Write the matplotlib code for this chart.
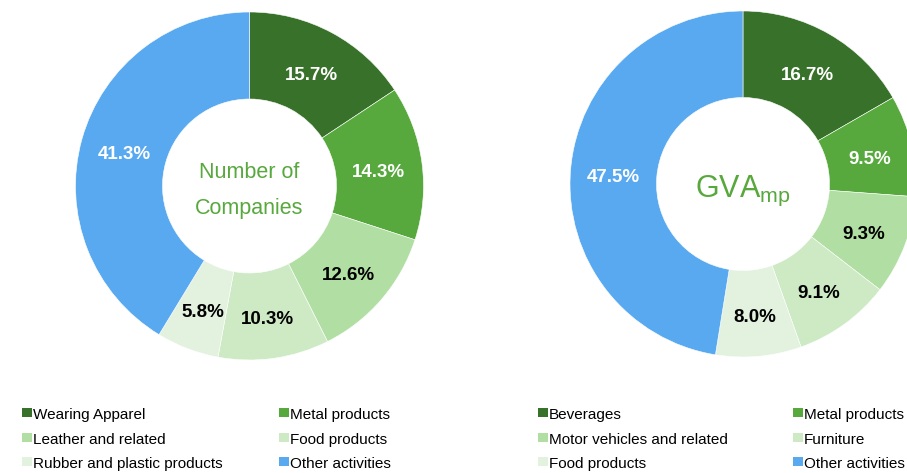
import matplotlib
matplotlib.use("Agg")
import matplotlib.pyplot as plt
from matplotlib.patches import Rectangle

plt.rcParams['font.family'] = ['Liberation Sans', 'DejaVu Sans']
plt.rcParams['mathtext.fontset'] = 'custom'
plt.rcParams['mathtext.rm'] = 'Liberation Sans'
plt.rcParams['mathtext.it'] = 'Liberation Sans'

# Data
companies_labels = ["Wearing Apparel", "Metal products", "Leather and related",
                    "Food products", "Rubber and plastic products", "Other activities"]
companies_values = [15.7, 14.3, 12.6, 10.3, 5.8, 41.3]

gva_labels = ["Beverages", "Metal products", "Motor vehicles and related",
              "Furniture", "Food products", "Other activities"]
gva_values = [16.7, 9.5, 9.3, 9.1, 8.0, 47.5]

colors = ["#38712a", "#57a83d", "#b1dea3", "#cdeac4", "#e2f2de", "#59a9f0"]
label_colors = ["white", "white", "black", "black", "black", "white"]
center_green = "#57a83d"

W, H = 907, 473
fig = plt.figure(figsize=(W / 100, H / 100), dpi=100)


def donut(cx, cy, R, values):
    ax = fig.add_axes([(cx - R) / W, 1 - (cy + R) / H, 2 * R / W, 2 * R / H])
    wedges, texts, autotexts = ax.pie(
        values, colors=colors, startangle=90, counterclock=False,
        radius=1.0, wedgeprops=dict(width=0.5, edgecolor='white', linewidth=0.4),
        autopct=lambda p: f"{p:.1f}%", pctdistance=0.75,
        textprops=dict(fontsize=13.5, fontweight='bold'))
    for t, c in zip(autotexts, label_colors):
        t.set_color(c)
        t.set_va('center_baseline')
        x, y = t.get_position()
        t.set_position((x, y - 0.012))
    ax.set_xlim(-1, 1)
    ax.set_ylim(-1, 1)
    ax.set_aspect('equal')
    ax.axis('off')
    return ax


ax1 = donut(249.5, 186, 174, companies_values)
ax1.text(0, -0.025, "Number of\nCompanies", ha='center', va='center',
         fontsize=15.5, color=center_green, linespacing=1.9)

ax2 = donut(743, 184, 173, gva_values)
ax2.text(0, -0.04, r"$\mathrm{GVA}_{\mathrm{mp}}$", ha='center', va='center',
         fontsize=22, color=center_green)


def legend(labels, col_x, row_y):
    order = [(0, 0), (1, 0), (0, 1), (1, 1), (0, 2), (1, 2)]
    for i, (lab, (c, r)) in enumerate(zip(labels, order)):
        x = col_x[c]
        y = row_y[r]
        fig.patches.append(Rectangle((x / W, 1 - (y + 5) / H), 9.5 / W, 9.5 / H,
                                     transform=fig.transFigure, facecolor=colors[i],
                                     edgecolor='none'))
        fig.text((x + 11) / W, 1 - (y + 2.5) / H, lab, ha='left', va='center',
                 fontsize=11, color='black')


legend(companies_labels, [22, 279], [412, 437, 461])
legend(gva_labels, [538, 793], [412, 437, 461])

fig.savefig("out.png", dpi=100)
